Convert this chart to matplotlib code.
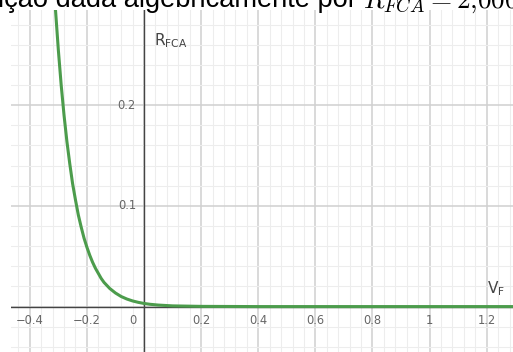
import numpy as np
import matplotlib
matplotlib.use("Agg")
import matplotlib.pyplot as plt
from matplotlib.ticker import MultipleLocator

# curve points (V_F, R_FCA)
v_f = [-0.31, -0.30, -0.29, -0.28, -0.27, -0.26, -0.25, -0.24, -0.23, -0.22,
       -0.21, -0.20, -0.19, -0.18, -0.17, -0.16, -0.15, -0.14, -0.12, -0.10,
       -0.08, -0.06, -0.04, -0.02, 0.0, 0.02, 0.05, 0.10, 0.20, 0.40, 0.80, 1.30]
r_fca = [0.295, 0.255, 0.220, 0.190, 0.164, 0.142, 0.122, 0.106, 0.091, 0.079,
         0.068, 0.059, 0.051, 0.044, 0.038, 0.033, 0.028, 0.024, 0.018, 0.0135,
         0.010, 0.0075, 0.0056, 0.0042, 0.0031, 0.0023, 0.0015, 0.0007, 0.0002, 0.0, 0.0, 0.0]

x_ticks = [-0.4, -0.2, 0, 0.2, 0.4, 0.6, 0.8, 1, 1.2]
x_labels = ["\u22120.4", "\u22120.2", "0", "0.2", "0.4", "0.6", "0.8", "1", "1.2"]
y_ticks = [0.1, 0.2]
y_labels = ["0.1", "0.2"]

W, H = 513, 352
fig = plt.figure(figsize=(W / 100, H / 100), dpi=100)
ax = fig.add_axes([11 / W, 0, (W - 11) / W, (H - 10) / H])

ax.set_xlim(-0.4657, 1.292)
ax.set_ylim(-0.0451, 0.2945)

# grid like geogebra
ax.xaxis.set_major_locator(MultipleLocator(0.2))
ax.xaxis.set_minor_locator(MultipleLocator(0.04))
ax.yaxis.set_major_locator(MultipleLocator(0.1))
ax.yaxis.set_minor_locator(MultipleLocator(0.02))
ax.grid(which="minor", color="#ededed", lw=0.8)
ax.grid(which="major", color="#d0d0d0", lw=1.1)
ax.set_axisbelow(True)
ax.tick_params(which="both", length=0, labelbottom=False, labelleft=False)
for s in ax.spines.values():
    s.set_visible(False)

ax.axhline(0, color="#444444", lw=1.0, zorder=2)
ax.axvline(0, color="#444444", lw=1.0, zorder=2)

ax.plot(v_f, r_fca, color="#4c9c4c", lw=2.2, zorder=3, solid_capstyle="round")

# tick labels
for xv, lab in zip(x_ticks, x_labels):
    off = -0.038 if xv == 0 else 0
    ax.text(xv + off, -0.0135, lab, ha="center", va="center", fontsize=8.3,
            color="#666666", family="DejaVu Sans")
for yv, lab in zip(y_ticks, y_labels):
    ax.text(-0.06, yv, lab, ha="center", va="center", fontsize=8.3,
            color="#666666", family="DejaVu Sans")

ax.text(0.035, 0.264, r"R$_{\mathrm{FCA}}$", fontsize=11, color="#444444",
        ha="left", va="center")
ax.text(1.2, 0.0175, r"V$_{\mathrm{F}}$", fontsize=11, color="#444444",
        ha="left", va="center")

# cut-off line of text above the graph
fig.text(-0.004, 1 - 7.3 / H, "ição dada algebricamente por", fontsize=19.6,
         family="Liberation Sans", va="baseline", ha="left", color="black")
fig.text(363 / W, 1 - 7.3 / H, r"$R_{FCA}=2{,}000$", fontsize=19.6,
         math_fontfamily="cm", va="baseline", ha="left", color="black")

fig.savefig("out.png", dpi=100)
